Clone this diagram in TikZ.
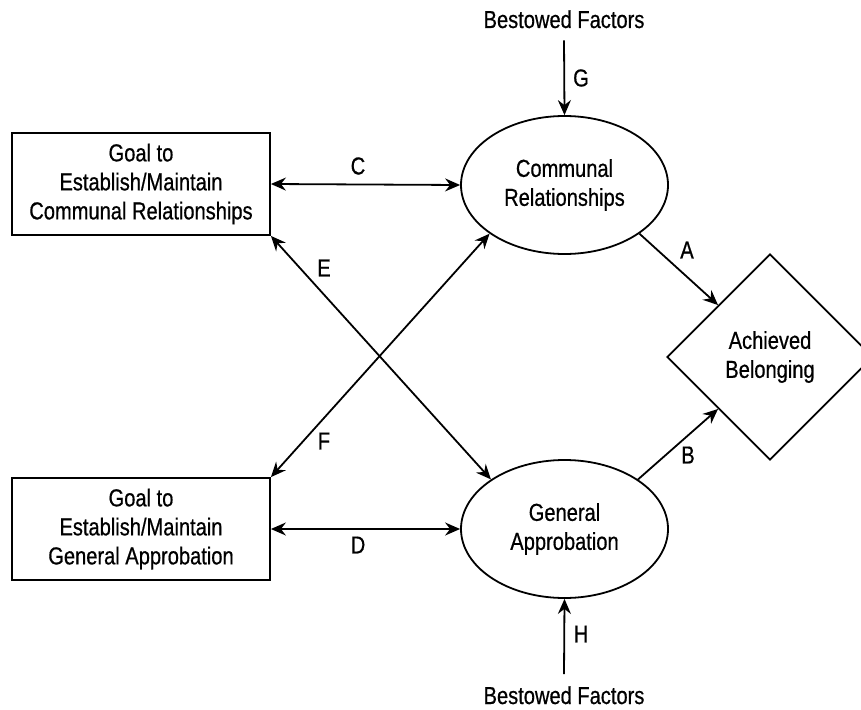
\documentclass[tikz,border=0pt]{standalone}
\usepackage{fontspec}
\setmainfont[FakeStretch=0.82,FakeBold=0.6]{Liberation Sans}
\usetikzlibrary{shapes.geometric,arrows.meta}
\begin{document}
\begin{tikzpicture}[x=1pt,y=-1pt,
  every node/.style={font=\fontsize{24.5}{29}\selectfont},
  ln/.style={line width=1.8pt, line cap=butt},
  tip/.tip={Stealth[length=15pt,width=13pt,inset=5pt]},
  arr/.style={ln,-tip},
  darr/.style={ln,tip-tip},
  goalbox/.style={draw,line width=1.8pt,minimum width=258pt,minimum height=102pt,inner sep=0pt,align=center},
  oval/.style={draw,line width=1.8pt,ellipse,minimum width=207pt,minimum height=138pt,inner sep=0pt,align=center},
  dia/.style={draw,line width=1.8pt,diamond,aspect=1,minimum width=206pt,minimum height=206pt,inner sep=0pt,align=center},
  lab/.style={inner sep=0pt},
  bf/.style={inner xsep=0pt,inner ysep=12pt,anchor=base}
]
\useasboundingbox (0,0) rectangle (861,709);
\fill[white] (0,0) rectangle (861,709);

\node[goalbox] (gcr) at (141,184) {Goal to\\Establish/Maintain\\Communal Relationships};
\node[goalbox] (gga) at (141,529) {Goal to\\Establish/Maintain\\General Approbation};
\node[oval] (cr) at (564.5,185) {Communal\\Relationships};
\node[oval] (ga) at (564.5,529) {General\\Approbation};
\node[dia] (ab) at (770,357) {Achieved\\Belonging};
\node[bf] (bft) at (564,28) {Bestowed Factors};
\node[bf] (bfb) at (564,704) {Bestowed Factors};

\draw[darr] (gcr.east) -- (cr.west);
\draw[darr] (gga.east) -- (ga.west);
\draw[darr] (gcr.south east) -- (ga.146);
\draw[darr] (gga.north east) -- (cr.213);
\draw[arr] (cr.327) -- (ab.135);
\draw[arr] (ga.34) -- (ab.225);
\draw[arr] (bft.south) -- (cr.north);
\draw[arr] (bfb.north) -- (ga.south);

\node[lab] (lc) at (358,166) {C};
\node[lab] (ld) at (358,545) {D};
\node[lab] (le) at (324,268) {E};
\node[lab] (lf) at (324,441) {F};
\node[lab] (la) at (687,250) {A};
\node[lab] (lb) at (688,455) {B};
\node[lab] (lg) at (581,78) {G};
\node[lab] (lh) at (581,634) {H};
\end{tikzpicture}
\end{document}
